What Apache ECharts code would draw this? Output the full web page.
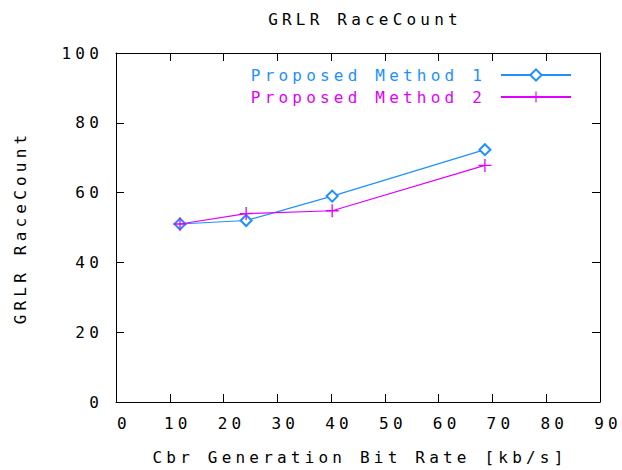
<!DOCTYPE html>
<html>
<head>
<meta charset="utf-8">
<script src="https://cdn.jsdelivr.net/npm/echarts@6/dist/echarts.min.js"></script>
<style>
  html, body { margin: 0; padding: 0; background: #fff; }
  #chart { width: 622px; height: 470px; }
  /* wide-spaced terminal-style lettering */
  #chart text { letter-spacing: 4.2px; }
</style>
</head>
<body>
<div id="chart"></div>
<script>
// Bit rate (kb/s) at which each run was measured
const bitRates = [11.9, 24.2, 40.2, 68.6];
// GRLR race count per method
const method1 = [51.0, 52.0, 59.0, 72.3];
const method2 = [51.0, 54.0, 54.8, 67.8];
const seriesNames = ['Proposed Method 1', 'Proposed Method 2'];
const colors = ['#1e90ff', '#e000ff'];

const FONT = '"DejaVu Sans Mono", "Liberation Mono", monospace';
const FS = 16;
const TEXT = '#000';

const toPairs = (xs, ys) => xs.map((x, i) => [x, ys[i]]);

const tickStyle = { show: true, inside: true, length: 8, lineStyle: { color: '#000', width: 1 } };
const lineStyle = { show: true, onZero: false, lineStyle: { color: '#000', width: 1 } };

const chart = echarts.init(document.getElementById('chart'), null, { renderer: 'svg' });
chart.setOption({
  animation: false,
  backgroundColor: '#fff',
  title: {
    text: 'GRLR RaceCount',
    left: 360, top: 6, textAlign: 'center',
    textStyle: { fontFamily: FONT, fontSize: FS, fontWeight: 'normal', color: TEXT }
  },
  legend: {
    orient: 'vertical',
    right: 45, top: 62,
    align: 'right',
    itemWidth: 70, itemHeight: 14, itemGap: 6,
    textStyle: { fontFamily: FONT, fontSize: FS, padding: [0, 10, 0, 0] },
    data: seriesNames.map((n, i) => ({ name: n, textStyle: { color: colors[i] } }))
  },
  grid: { left: 116, right: 22, top: 53, bottom: 68 },
  xAxis: [{
    type: 'value', min: 0, max: 90, interval: 10, position: 'bottom',
    name: 'Cbr Generation Bit Rate [kb/s]', nameLocation: 'middle', nameGap: 47,
    nameTextStyle: { fontFamily: FONT, fontSize: FS, color: TEXT, padding: [0, 0, 0, 4] },
    axisLine: lineStyle, axisTick: tickStyle, splitLine: { show: false },
    axisLabel: { fontFamily: FONT, fontSize: FS, color: TEXT, margin: 13, padding: [0, 0, 0, 16] }
  }, {
    type: 'value', min: 0, max: 90, interval: 10, position: 'top',
    axisLine: lineStyle, axisTick: tickStyle, splitLine: { show: false },
    axisLabel: { show: false }
  }],
  yAxis: [{
    type: 'value', min: 0, max: 100, interval: 20, position: 'left',
    name: 'GRLR RaceCount', nameLocation: 'middle', nameGap: 88,
    nameTextStyle: { fontFamily: FONT, fontSize: FS, color: TEXT },
    axisLine: lineStyle, axisTick: tickStyle, splitLine: { show: false },
    axisLabel: { fontFamily: FONT, fontSize: FS, color: TEXT, margin: 13 }
  }, {
    type: 'value', min: 0, max: 100, interval: 20, position: 'right',
    axisLine: lineStyle, axisTick: tickStyle, splitLine: { show: false },
    axisLabel: { show: false }
  }],
  series: [{
    name: seriesNames[0],
    type: 'line',
    data: toPairs(bitRates, method1),
    color: colors[0],
    symbol: 'emptyDiamond',
    symbolSize: 11,
    lineStyle: { width: 1.2, color: colors[0] },
    itemStyle: { color: colors[0], borderWidth: 1.2 },
    z: 3
  }, {
    name: seriesNames[1],
    type: 'line',
    data: toPairs(bitRates, method2),
    color: colors[1],
    symbol: 'path://M5.4,0h1.2v12h-1.2zM0,5.4h12v1.2h-12z',
    symbolSize: 13,
    lineStyle: { width: 1.2, color: colors[1] },
    itemStyle: { color: colors[1], borderWidth: 0 },
    z: 4
  }]
});
</script>
</body>
</html>
